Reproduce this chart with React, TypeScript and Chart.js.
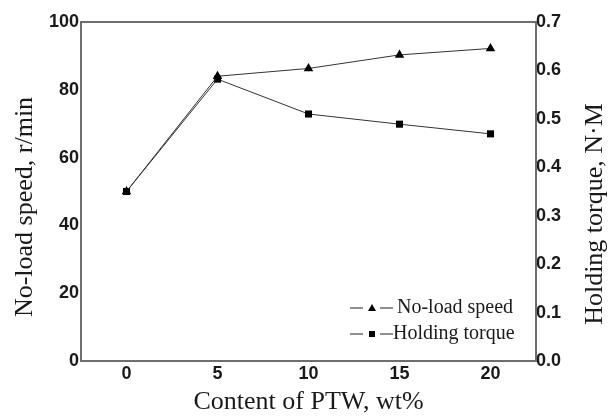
import React, { useEffect, useRef } from "react";
import { Chart, registerables } from "chart.js";

Chart.register(...registerables);

const categories = ["0", "5", "10", "15", "20"];
const noLoadSpeed = [50, 84, 86.3, 90.3, 92.2];
const holdingTorque = [0.35, 0.582, 0.51, 0.489, 0.469];
const leftTicks = [0, 20, 40, 60, 80, 100];
const rightTicks = [0, 0.1, 0.2, 0.3, 0.4, 0.5, 0.6, 0.7];

const xTitle = "Content of PTW, wt%";
const yLeftTitle = "No-load speed, r/min";
const yRightTitle = "Holding torque, N\u00b7M";

const SERIF = "'Liberation Serif', 'Times New Roman', serif";
const SANS = "'Liberation Sans', Arial, sans-serif";

const framePlugin = {
  id: "frameAndTitles",
  afterDraw(chart: any) {
    const { ctx, chartArea } = chart;
    const { left, right, top, bottom } = chartArea;
    ctx.save();
    // frame
    ctx.strokeStyle = "#6e6e6e";
    ctx.lineWidth = 2;
    ctx.strokeRect(left, top, right - left, bottom - top);

    // titles
    ctx.fillStyle = "#1a1a1a";
    ctx.font = `26px ${SERIF}`;
    ctx.textAlign = "center";
    ctx.textBaseline = "middle";
    ctx.fillText(xTitle, (left + right) / 2, 402);

    ctx.save();
    ctx.translate(25, 207);
    ctx.rotate(-Math.PI / 2);
    ctx.fillText(yLeftTitle, 0, 0);
    ctx.restore();

    ctx.save();
    ctx.translate(595, 214);
    ctx.rotate(-Math.PI / 2);
    ctx.fillText(yRightTitle, 0, 0);
    ctx.restore();

    // legend
    const rows = [
      { label: chart.data.datasets[0].label, style: "triangle", y: 308, tx: 397 },
      { label: chart.data.datasets[1].label, style: "rect", y: 334, tx: 393 },
    ];
    ctx.font = `20px ${SERIF}`;
    ctx.textAlign = "left";
    ctx.textBaseline = "middle";
    rows.forEach((r) => {
      ctx.strokeStyle = "#222";
      ctx.lineWidth = 1.2;
      ctx.beginPath();
      ctx.moveTo(350, r.y);
      ctx.lineTo(363, r.y);
      ctx.moveTo(380, r.y);
      ctx.lineTo(393, r.y);
      ctx.stroke();
      ctx.fillStyle = "#000";
      ctx.beginPath();
      if (r.style === "triangle") {
        ctx.moveTo(372, r.y - 4);
        ctx.lineTo(376, r.y + 3);
        ctx.lineTo(368, r.y + 3);
        ctx.closePath();
      } else {
        ctx.rect(369, r.y - 3, 6, 6);
      }
      ctx.fill();
      ctx.fillStyle = "#1a1a1a";
      ctx.fillText(r.label, r.tx, r.y);
    });
    ctx.restore();
  },
};

const tickFont = { family: SANS, size: 18, weight: "bold" as const };

export default function App() {
  const ref = useRef<HTMLCanvasElement>(null);
  useEffect(() => {
    if (!ref.current) return;
    const chart = new Chart(ref.current, {
      type: "line",
      data: {
        labels: categories,
        datasets: [
          {
            label: "No-load speed",
            data: noLoadSpeed,
            yAxisID: "y",
            borderColor: "#333",
            borderWidth: 1,
            backgroundColor: "#000",
            pointStyle: "triangle",
            pointRadius: 5.5,
            pointBorderWidth: 0,
            pointBackgroundColor: "#000",
          },
          {
            label: "Holding torque",
            data: holdingTorque,
            yAxisID: "y1",
            borderColor: "#333",
            borderWidth: 1,
            backgroundColor: "#000",
            pointStyle: "rect",
            pointRadius: 5,
            pointBorderWidth: 0,
            pointBackgroundColor: "#000",
          },
        ],
      },
      options: {
        animation: false,
        responsive: false,
        maintainAspectRatio: false,
        layout: { padding: { top: 22, right: 0, left: 0, bottom: 0 } },
        plugins: { legend: { display: false }, tooltip: { enabled: false } },
        scales: {
          x: {
            type: "category",
            offset: true,
            grid: { display: false, drawTicks: false },
            border: { display: false },
            ticks: { padding: 2, color: "#1a1a1a", font: tickFont, maxRotation: 0 },
            afterFit: (s: any) => { s.height = 55; },
          },
          y: {
            type: "linear",
            position: "left",
            min: 0,
            max: 100,
            afterBuildTicks: (s: any) => { s.ticks = leftTicks.map((v) => ({ value: v })); },
            grid: { display: false, drawTicks: false },
            border: { display: false },
            ticks: { padding: 2, color: "#1a1a1a", font: tickFont },
            afterFit: (s: any) => { s.width = 81; },
          },
          y1: {
            type: "linear",
            position: "right",
            min: 0,
            max: 0.7,
            afterBuildTicks: (s: any) => { s.ticks = rightTicks.map((v) => ({ value: v })); },
            grid: { display: false, drawTicks: false },
            border: { display: false },
            ticks: {
              padding: 0,
              color: "#1a1a1a",
              font: tickFont,
              callback: (v: any) => Number(v).toFixed(1),
            },
            afterFit: (s: any) => { s.width = 74; },
          },
        },
      },
      plugins: [framePlugin],
    });
    return () => chart.destroy();
  }, []);
  return (
    <div style={{ position: "fixed", left: 0, top: 0, width: 610, height: 416, background: "#fff" }}>
      <canvas ref={ref} width={610} height={416} style={{ display: "block" }} />
    </div>
  );
}
